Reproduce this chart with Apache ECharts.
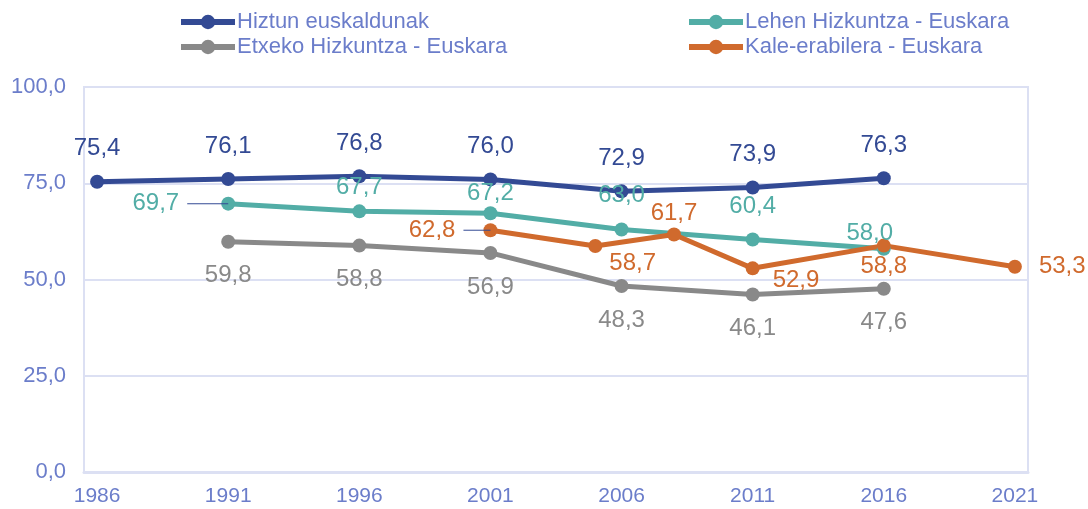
<!DOCTYPE html>
<html>
<head>
<meta charset="utf-8">
<script src="https://cdn.jsdelivr.net/npm/echarts@6/dist/echarts.min.js"></script>
<style>
  html, body { margin: 0; padding: 0; background: #fff; }
  #chart { width: 1088px; height: 509px; }
</style>
</head>
<body>
<div id="chart"></div>
<script type="text/javascript">
// years on the axis (one category per year, label every 5th)
const years = [];
for (let y = 1986; y <= 2021; y++) years.push(String(y));

const hiztunYears = ["1986", "1991", "1996", "2001", "2006", "2011", "2016"];
const hiztunValues = [75.4, 76.1, 76.8, 76.0, 72.9, 73.9, 76.3];

const lehenYears = ["1991", "1996", "2001", "2006", "2011", "2016"];
const lehenValues = [69.7, 67.7, 67.2, 63.0, 60.4, 58.0];

const etxekoYears = ["1991", "1996", "2001", "2006", "2011", "2016"];
const etxekoValues = [59.8, 58.8, 56.9, 48.3, 46.1, 47.6];

const kaleYears = ["2001", "2005", "2008", "2011", "2016", "2021"];
const kaleValues = [62.8, 58.7, 61.7, 52.9, 58.8, 53.3];

const yTicks = [0, 25, 50, 75, 100];

const FONT = "Liberation Sans, Arial, sans-serif";
const AXIS_COLOR = "#6B7DCA";
const GRID_COLOR = "#DCE0F3";
const LEADER_COLOR = "#334A94";

function fmt(v) {
  return v.toFixed(1).replace(".", ",");
}

// per-point label tweaks (style only, keyed by year)
const lehenLabelStyle = {
  "1991": { position: "left", distance: -7, leader: 41 },
  "1996": { distance: 5 },
  "2001": { distance: 1 },
  "2006": { distance: 15 },
  "2011": { distance: 14 },
  "2016": { offset: [-14, 17] }
};
const kaleLabelStyle = {
  "2001": { position: "left", distance: -7, leader: 27 },
  "2005": { position: "right", distance: 7, offset: [0, 17] },
  "2008": { position: "top", distance: 2 },
  "2011": { position: "right", distance: 13, offset: [0, 12] },
  "2016": { position: "bottom", distance: 2 },
  "2021": { position: "right", distance: 17 }
};

function buildData(xs, vals, styleMap) {
  return xs.map((x, i) => {
    const item = { value: [x, vals[i]] };
    const s = styleMap && styleMap[x];
    if (s) {
      item.label = {};
      if (s.position) item.label.position = s.position;
      if (s.distance !== undefined) item.label.distance = s.distance;
      if (s.offset) item.label.offset = s.offset;
      if (s.leader) {
        item.label.formatter = "{v|" + fmt(vals[i]) + "}{l|}";
        item.label.rich = {
          v: { padding: [0, 8, 0, 0], fontSize: 24, fontFamily: FONT, verticalAlign: "middle" },
          l: { width: s.leader, height: 1, backgroundColor: LEADER_COLOR, verticalAlign: "middle" }
        };
      }
    }
    return item;
  });
}

function makeSeries(name, color, data, pos, dist) {
  return {
    name: name,
    type: "line",
    data: data,
    symbol: "circle",
    symbolSize: 14,
    lineStyle: { color: color, width: 5 },
    itemStyle: { color: color },
    label: {
      show: true,
      position: pos,
      distance: dist,
      color: color,
      fontSize: 24,
      fontFamily: FONT,
      formatter: p => fmt(p.value[1])
    },
    emphasis: { disabled: true },
    animation: false
  };
}

function makeLegend(names, left) {
  return {
    data: names,
    orient: "vertical",
    left: left,
    top: 11,
    padding: 0,
    itemWidth: 54,
    itemHeight: 18,
    itemGap: 3,
    lineStyle: { width: 6 },
    textStyle: { color: AXIS_COLOR, fontSize: 22, fontFamily: FONT, padding: [0, 0, 0, -3] }
  };
}

const chart = echarts.init(document.getElementById("chart"));

chart.setOption({
  backgroundColor: "#fff",
  textStyle: { fontFamily: FONT },
  legend: [
    makeLegend(["Hiztun euskaldunak", "Etxeko Hizkuntza - Euskara"], 178),
    makeLegend(["Lehen Hizkuntza - Euskara", "Kale-erabilera - Euskara"], 686)
  ],
  grid: {
    left: 84,
    right: 60,
    top: 87,
    bottom: 37,
    show: true,
    borderColor: GRID_COLOR,
    borderWidth: 2
  },
  xAxis: {
    type: "category",
    data: years,
    boundaryGap: true,
    axisTick: { show: false },
    axisLine: { lineStyle: { color: GRID_COLOR, width: 3 } },
    axisLabel: {
      interval: 4,
      color: AXIS_COLOR,
      fontSize: 21,
      fontFamily: FONT,
      margin: 14
    },
    splitLine: { show: false }
  },
  yAxis: {
    type: "value",
    min: yTicks[0],
    max: yTicks[yTicks.length - 1],
    interval: 25,
    axisLine: { show: false },
    axisTick: { show: false },
    axisLabel: {
      color: AXIS_COLOR,
      fontSize: 22,
      fontFamily: FONT,
      margin: 18,
      formatter: v => fmt(v)
    },
    splitLine: { lineStyle: { color: GRID_COLOR, width: 2 } }
  },
  series: [
    makeSeries("Hiztun euskaldunak", "#334A94", buildData(hiztunYears, hiztunValues), "top", 14),
    makeSeries("Lehen Hizkuntza - Euskara", "#52ADA6", buildData(lehenYears, lehenValues, lehenLabelStyle), "top", 13),
    makeSeries("Etxeko Hizkuntza - Euskara", "#898989", buildData(etxekoYears, etxekoValues), "bottom", 15),
    makeSeries("Kale-erabilera - Euskara", "#D06A2D", buildData(kaleYears, kaleValues, kaleLabelStyle), "bottom", 5)
  ]
});
</script>
</body>
</html>
